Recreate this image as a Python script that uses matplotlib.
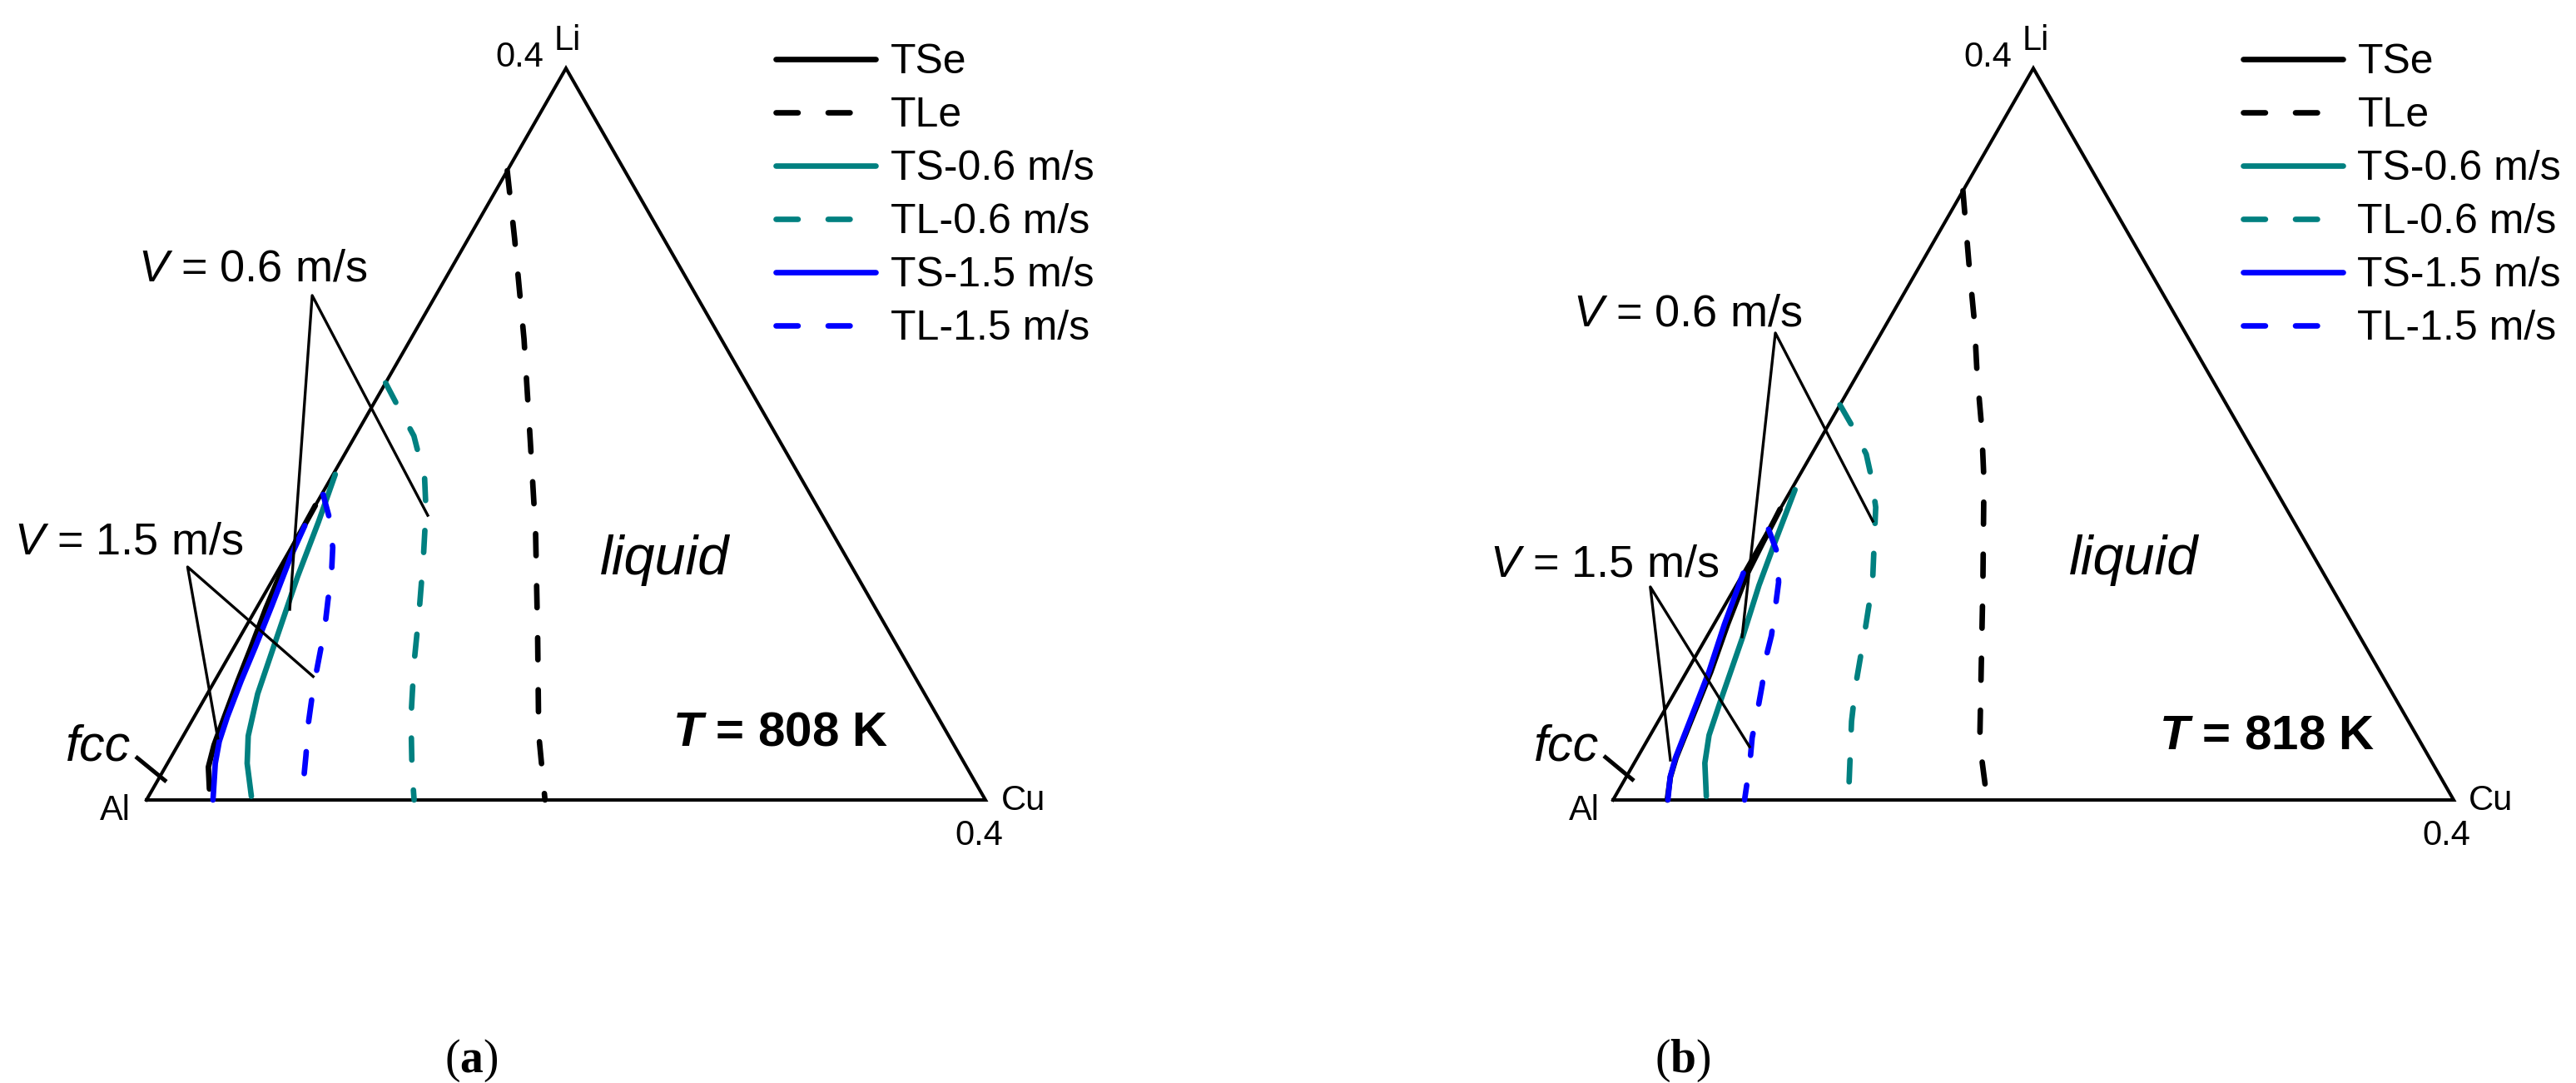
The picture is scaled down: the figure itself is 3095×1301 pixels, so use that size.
import numpy as np
import matplotlib
matplotlib.use('Agg')
import matplotlib.pyplot as plt

plt.rcParams['font.family'] = 'Liberation Sans'
plt.rcParams['mathtext.fontset'] = 'custom'
plt.rcParams['mathtext.rm'] = 'Liberation Sans'
plt.rcParams['mathtext.it'] = 'Liberation Sans:italic'
plt.rcParams['mathtext.bf'] = 'Liberation Serif:bold'
plt.rcParams['mathtext.bfit'] = 'Liberation Sans:italic:bold'
plt.rcParams['lines.scale_dashes'] = False

# ---- data: mole fractions (x_Cu, x_Li) ----
# (a) T = 808 K
tse_a_li = [0.161, 0.145, 0.130, 0.105, 0.083, 0.065, 0.045, 0.030, 0.018, 0.006]
tse_a_cu = [0.000, 0.0003, 0.0012, 0.0045, 0.0082, 0.0110, 0.0145, 0.0172, 0.0205, 0.0270]
tle_a_li = [0.344, 0.307, 0.252, 0.196, 0.147, 0.089, 0.036, 0.0]
tle_a_cu = [0.000, 0.022, 0.054, 0.085, 0.112, 0.142, 0.169, 0.190]
ts06_a_li = [0.178, 0.152, 0.122, 0.085, 0.058, 0.035, 0.020, 0.002]
ts06_a_cu = [0.001, 0.006, 0.011, 0.0185, 0.024, 0.031, 0.038, 0.049]
tl06_a_li = [0.228, 0.2165, 0.199, 0.176, 0.1585, 0.132, 0.103, 0.074, 0.045, 0.016, 0.0]
tl06_a_cu = [0.000, 0.011, 0.028, 0.0446, 0.054, 0.066, 0.0785, 0.0905, 0.1036, 0.1186, 0.1276]
ts15_a_li = [0.150, 0.1336, 0.106, 0.0835, 0.065, 0.0456, 0.032, 0.020, 0.0]
ts15_a_cu = [0.0005, 0.0022, 0.0067, 0.0101, 0.0126, 0.0158, 0.0187, 0.0228, 0.0317]
tl15_a_li = [0.167, 0.155, 0.138, 0.1245, 0.109, 0.094, 0.079, 0.061, 0.0425, 0.024, 0.0]
tl15_a_cu = [0.0007, 0.0095, 0.0198, 0.026, 0.032, 0.038, 0.043, 0.049, 0.056, 0.064, 0.074]

# (b) T = 818 K
tse_b_li = [0.159, 0.140, 0.124, 0.096, 0.070, 0.043, 0.023, 0.0126, 0.0]
tse_b_cu = [0.000, 0.001, 0.002, 0.0065, 0.0115, 0.0155, 0.0185, 0.021, 0.0258]
tle_b_li = [0.333, 0.319, 0.290, 0.261, 0.2325, 0.204, 0.175, 0.118, 0.060, 0.031, 0.0]
tle_b_cu = [0.000, 0.008, 0.0246, 0.0415, 0.057, 0.0734, 0.089, 0.117, 0.145, 0.159, 0.178]
ts06_b_li = [0.1696, 0.1415, 0.1173, 0.0884, 0.0536, 0.0354, 0.0202, 0.002]
ts06_b_cu = [0.0018, 0.0065, 0.0108, 0.0173, 0.0242, 0.028, 0.0336, 0.0434]
tl06_b_li = [0.216, 0.2045, 0.189, 0.176, 0.160, 0.119, 0.0915, 0.063, 0.043, 0.020, 0.0]
tl06_b_cu = [0.000, 0.0115, 0.026, 0.035, 0.045, 0.064, 0.074, 0.084, 0.092, 0.1027, 0.112]
ts15_b_li = [0.124, 0.096, 0.070, 0.043, 0.023, 0.0126, 0.0]
ts15_b_cu = [0.000, 0.005, 0.0106, 0.015, 0.0182, 0.0209, 0.0261]
tl15_b_li = [0.148, 0.1355, 0.119, 0.105, 0.090, 0.078, 0.063, 0.049, 0.034, 0.020, 0.0]
tl15_b_cu = [0.000, 0.0103, 0.0193, 0.0247, 0.0304, 0.0338, 0.0395, 0.0443, 0.0492, 0.0551, 0.0626]

# leader lines (x_Cu, x_Li): end -> corner -> end
v06_a = [(0.0162, 0.1042), (-0.0589, 0.2758), (0.0563, 0.1556)]
v15_a = [(0.0171, 0.0338), (-0.0441, 0.1274), (0.0457, 0.0675)]
fcc_a = [(-0.017, 0.0237), (0.0045, 0.010)]
v06_b = [(0.0168, 0.0892), (-0.0504, 0.2553), (0.0474, 0.1524)]
v15_b = [(0.0164, 0.0218), (-0.0405, 0.1165), (0.0504, 0.0291)]
fcc_b = [(-0.0164, 0.0241), (0.0047, 0.0105)]

labels = ['TSe', 'TLe', 'TS-0.6 m/s', 'TL-0.6 m/s', 'TS-1.5 m/s', 'TL-1.5 m/s']
colors = ['black', 'black', '#008080', '#008080', '#0000ff', '#0000ff']
dashed = [False, True, False, True, False, True]
temps = ['808', '818']
letters = ['a', 'b']

W, H = 3095, 1301
SQ = np.sqrt(3) / 2


def tern(cu, li):
    cu = np.asarray(cu, float)
    li = np.asarray(li, float)
    return cu + li / 2, li * SQ


def px(x, y):
    return x / W, 1 - y / H


fig = plt.figure(figsize=(W / 100, H / 100), dpi=100)

# axes placement in pixels: (axes left, axes right, Al corner x, Cu corner x)
panels = [(0, 1547, 176, 1184), (1547, 3095, 1938, 2948)]
base_y, apex_y = 961, 82

curves = [
    [(tse_a_cu, tse_a_li), (tle_a_cu, tle_a_li), (ts06_a_cu, ts06_a_li),
     (tl06_a_cu, tl06_a_li), (ts15_a_cu, ts15_a_li), (tl15_a_cu, tl15_a_li)],
    [(tse_b_cu, tse_b_li), (tle_b_cu, tle_b_li), (ts06_b_cu, ts06_b_li),
     (tl06_b_cu, tl06_b_li), (ts15_b_cu, ts15_b_li), (tl15_b_cu, tl15_b_li)],
]
leaders = [(v06_a, v15_a, fcc_a), (v06_b, v15_b, fcc_b)]

# text anchors in pixels (left/right x, baseline y)
txt = [
    dict(li=(666, 60), li04=(653, 80), al=(157, 985), cu=(1203, 973), cu04=(1147, 1015),
         v06=(166, 338), v15=(17, 666), fcc=(79, 913), liq=(721, 690), T=(808, 896),
         leg=(932, 52), lab=(566, 1288)),
    dict(li=(2430, 60), li04=(2417, 80), al=(1922, 985), cu=(2966, 973), cu04=(2910, 1015),
         v06=(1890, 392), v15=(1790, 692), fcc=(1843, 913), liq=(2486, 690), T=(2594, 899),
         leg=(2695, 52), lab=(2022, 1288)),
]

for k, (x0, x1, al_x, cu_x) in enumerate(panels):
    ax = fig.add_axes([x0 / W, 0, (x1 - x0) / W, 1])
    sx = (cu_x - al_x) / 0.4
    sy = (base_y - apex_y) / (0.4 * SQ)
    ax.set_xlim((x0 - al_x) / sx, (x1 - al_x) / sx)
    ax.set_ylim(-(H - base_y) / sy, base_y / sy)
    ax.axis('off')

    # triangle Al - Cu - Li
    tx, ty = tern([0, 0.4, 0, 0], [0, 0, 0.4, 0])
    ax.plot(tx, ty, color='black', lw=2.9, solid_joinstyle='miter', zorder=3)

    handles = []
    for (cu, li), lab, col, dsh in zip(curves[k], labels, colors, dashed):
        x, y = tern(cu, li)
        if dsh:
            ln, = ax.plot(x, y, color=col, lw=4.8, label=lab, dashes=(19, 26),
                          dash_capstyle='round', zorder=4)
        else:
            ln, = ax.plot(x, y, color=col, lw=4.8, label=lab,
                          solid_capstyle='round', zorder=4)
        handles.append(ln)

    v06, v15, fcc = leaders[k]
    for pts in (v06, v15):
        cu, li = zip(*pts)
        x, y = tern(cu, li)
        ax.plot(x, y, color='black', lw=2.4, zorder=5)
    cu, li = zip(*fcc)
    x, y = tern(cu, li)
    ax.plot(x, y, color='black', lw=3.6, solid_capstyle='butt', zorder=5)

    t = txt[k]
    fig.text(*px(*t['li']), 'Li', fontsize=30, ha='left', va='baseline')
    fig.text(*px(*t['li04']), '0.4', fontsize=30, ha='right', va='baseline')
    fig.text(*px(*t['al']), 'Al', fontsize=30, ha='right', va='baseline')
    fig.text(*px(*t['cu']), 'Cu', fontsize=30, ha='left', va='baseline')
    fig.text(*px(*t['cu04']), '0.4', fontsize=30, ha='left', va='baseline')
    fig.text(*px(*t['v06']), r'$V$ = 0.6 m/s', fontsize=39, ha='left', va='baseline')
    fig.text(*px(*t['v15']), r'$V$ = 1.5 m/s', fontsize=39, ha='left', va='baseline')
    fig.text(*px(*t['fcc']), 'fcc', fontsize=44, style='italic', ha='left', va='baseline')
    fig.text(*px(*t['liq']), 'liquid', fontsize=48, style='italic', ha='left', va='baseline')
    fig.text(*px(*t['T']), r'$\mathbfit{T}$ = ' + temps[k] + ' K', fontsize=42,
             fontweight='bold', ha='left', va='baseline')
    fig.text(*px(*t['lab']), r'($\mathbf{' + letters[k] + r'}$)', fontsize=40,
             family='Liberation Serif', ha='center', va='baseline')

    ax.legend(handles=handles, loc='upper left', bbox_to_anchor=px(*t['leg']),
              bbox_transform=fig.transFigure, frameon=False, fontsize=36,
              borderpad=0, borderaxespad=0, handlelength=2.4, handletextpad=0.35,
              labelspacing=0.36)

fig.savefig('out.png', dpi=100, facecolor='white')
